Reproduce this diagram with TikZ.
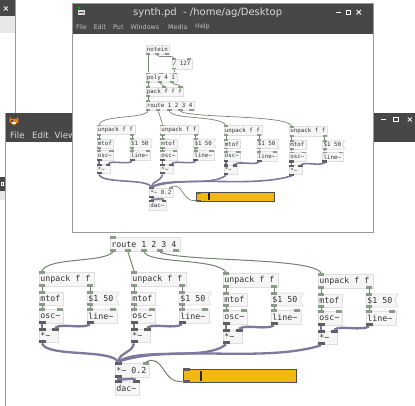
\documentclass[tikz,border=0pt]{standalone}
\usepackage{fontspec}
\setmainfont{DejaVu Sans}
\newfontfamily\pdmono{DejaVu Sans Mono}
\definecolor{bar}{HTML}{474747}
\definecolor{frame}{HTML}{9A9A9A}
\definecolor{objfill}{HTML}{F5F6F5}
\definecolor{objline}{HTML}{DDE0DD}
\definecolor{ctlio}{HTML}{8C9A8C}
\definecolor{sigio}{HTML}{5E5E62}
\definecolor{ctlwire}{HTML}{74836F}
\definecolor{sigwire}{HTML}{7C7A9C}
\definecolor{slider}{HTML}{F1B90F}
\tikzset{
  objbox/.style={draw=objline,fill=objfill,line width=.8pt,inner ysep=0pt,inner xsep=0pt,text=black!80,font=\pdmono\fontsize{\fs}{\fs}\selectfont},
  msgtext/.style={objbox,draw=none,fill=none},
  ioc/.style={fill=ctlio,draw=none,inner sep=0pt,minimum width={\zs*6pt},minimum height={\zs*2.6pt}},
  ios/.style={fill=sigio,draw=none,inner sep=0pt,minimum width={\zs*7pt},minimum height={\zs*3pt}},
  ctl/.style={draw=ctlwire,line width={\zs*1pt}},
  sig/.style={draw=sigwire,line width={\zs*2.3pt}},
  barbox/.style={fill=bar,draw=none},
  winframe/.style={draw=frame,line width=1pt},
  bartext/.style={text=white!85!black,inner sep=0pt,anchor=west}
}
\newcommand\obj[6]{%
  \pgfmathsetmacro\tw{(#4-#2)*\zs-2.6*\zs}%
  \pgfmathsetmacro\mw{(#4-#2)*\zs}%
  \pgfmathsetmacro\mh{(#5-#3)*\zs}%
  \node[objbox,minimum width=\mw pt,minimum height=\mh pt] (#1) at ({(#2+#4)/2},{(#3+#5)/2}) {\makebox[\tw pt][l]{#6}};}
\newcommand\msg[6]{%
  \pgfmathsetmacro\tw{(#4-#2)*\zs-2.6*\zs}%
  \pgfmathsetmacro\mw{(#4-#2)*\zs}%
  \pgfmathsetmacro\mh{(#5-#3)*\zs}%
  \draw[draw=objline,fill=objfill,line width=.8pt] (#2,#3) -- (#4,#3) -- ({#4-3},{(#3+#5)/2}) -- (#4,#5) -- (#2,#5) -- cycle;
  \node[msgtext,minimum width=\mw pt,minimum height=\mh pt] (#1) at ({(#2+#4)/2},{(#3+#5)/2}) {\makebox[\tw pt][l]{#6}};}
\newcommand\ioc[3]{\node[ioc] (#1) at (#2,#3) {};}
\newcommand\ios[3]{\node[ios] (#1) at (#2,#3) {};}
% one voice of the patch
\newcommand\voice[3]{%
\begin{scope}[shift={(#2,#3)}]
  \obj{#1un}{39}{272}{94}{286}{unpack f f}
  \obj{#1mt}{39}{292}{63}{305}{mtof}
  \msg{#1ms}{87}{292}{119}{305}{\$1 50}
  \obj{#1os}{39}{309}{63}{323}{osc\char126}
  \obj{#1li}{87}{309}{117}{323}{line\char126}
  \obj{#1mu}{39}{329}{58}{342}{*\char126}
  \ioc{#1uni}{42}{272.5}\ioc{#1uo}{42}{285.7}\ioc{#1up}{90}{285.7}
  \ioc{#1mti}{42}{292.5}\ioc{#1mto}{42}{304.7}
  \ioc{#1msi}{90}{292.5}\ioc{#1mso}{90}{304.7}
  \ioc{#1osi}{42}{309.5}\ioc{#1osj}{60}{309.5}\ios{#1oso}{42}{322.7}
  \ioc{#1lii}{90}{309.5}\ioc{#1lij}{113}{309.5}\ios{#1lio}{90}{322.7}
  \ios{#1mui}{42}{329.5}\ios{#1muj}{55}{329.5}\ios{#1muo}{42}{341.7}
  \draw[ctl] (#1uo.south) -- (#1mti.north);
  \draw[ctl] (#1up.south) -- (#1msi.north);
  \draw[ctl] (#1mto.south) -- (#1osi.north);
  \draw[ctl] (#1mso.south) -- (#1lii.north);
  \draw[sig] (#1oso.south) -- (#1mui.north);
  \draw[sig] (#1lio.south) .. controls +(-8,5) and +(7,-5) .. (#1muj.north);
\end{scope}}
% the patch shared by both windows
\newcommand\patch[1]{%
  \obj{#1ro}{110}{237}{180}{251}{route 1 2 3 4}
  \ioc{#1roi}{113}{237.5}
  \ioc{#1r1}{113}{250.5}\ioc{#1r2}{128}{250.5}\ioc{#1r3}{144}{250.5}\ioc{#1r4}{160}{250.5}\ioc{#1r5}{176}{250.5}
  \voice{#11}{0}{0}
  \voice{#12}{92}{0}
  \voice{#13}{184}{1}
  \voice{#14}{279}{2}
  \obj{#1vo}{115}{363}{149}{377}{*\char126{} 0.2}
  \obj{#1da}{115}{381}{139}{395}{dac\char126}
  \ios{#1voi}{118}{363.5}\ioc{#1voj}{146}{363.5}\ios{#1voo}{118}{376.7}
  \ios{#1dai}{118}{381.5}\ios{#1daj}{136}{381.5}
  \node[draw=black!70,line width={\zs*.9pt},fill=slider,minimum width={\zs*113pt},minimum height={\zs*13pt},inner sep=0pt] (#1sl) at (239.5,375.5) {};
  \ios{#1sli}{186}{369.7}\ios{#1slo}{186}{381.3}
  \node[fill=black!85,inner sep=0pt,minimum width={\zs*2.6pt},minimum height={\zs*10pt}] (#1sh) at (201,375.5) {};
  \draw[ctl] (#1r1.south) .. controls +(-10,11) and +(6,-14) .. (#11uni.north);
  \draw[ctl] (#1r2.south) -- (#12uni.north);
  \draw[ctl] (#1r3.south) .. controls +(6,12) and +(-10,-14) .. (#13uni.north);
  \draw[ctl] (#1r4.south) .. controls +(20,10) and +(-8,-16) .. (#14uni.north);
  \draw[sig] (#11muo.south) .. controls +(5,14) and +(-7,-13) .. (#1voi.north);
  \draw[sig] (#12muo.south) .. controls +(-3,11) and +(3,-11) .. (#1voi.north);
  \draw[sig] (#13muo.south) .. controls +(-20,17) and +(22,-15) .. (#1voi.north);
  \draw[sig] (#14muo.south) .. controls +(-60,18) and +(52,-18) .. (#1voi.north);
  \draw[sig] (#1voo.south) -- (#1dai.north);
  \draw[sig] (#1voo.south) .. controls +(4,3) and +(-4,-3) .. (#1daj.north);
  \draw[ctl] (#1slo.west) .. controls +(-20,3) and +(18,-9) .. (#1voj.north);
}
\begin{document}
\begin{tikzpicture}[x=1pt,y=-1pt]
\useasboundingbox (0,0) rectangle (415,406);
\fill[white] (0,0) rectangle (415,406);
\def\zs{1}
% window at the very back
\fill[black!9] (0,16) rectangle (15,33);
\fill[barbox] (0,0) rectangle (15,16);
\node[text=white,inner sep=0pt,font=\bfseries\fontsize{8}{8}\selectfont] (backx) at (6,9) {×};
\draw[winframe] (15.3,0) -- (15.3,113);
% far left window
\fill[black!9] (0,191) rectangle (5,200);
\fill[barbox] (0,177) rectangle (5,191);
\draw[white,line width=.8pt] (1.5,182) rectangle (3.5,185);
% middle window
\fill[barbox] (5.5,113) rectangle (415,142);
\draw[winframe] (5.5,113) -- (5.5,406);
% cat icon
\fill[orange!60!brown] (10,116) -- (11,119) -- (17,119) -- (18,116) -- (18.5,122) -- (14,125.5) -- (9.5,122) -- cycle;
\fill[black!70] (11,120.5) rectangle (13,122);
\fill[white!85!orange] (12,122.5) rectangle (16,124);
\node[bartext,font=\fontsize{8.6}{8.6}\selectfont] (mfile) at (10,135.5) {File};
\node[bartext,font=\fontsize{8.6}{8.6}\selectfont] (medit) at (32,135.5) {Edit};
\node[bartext,font=\fontsize{8.6}{8.6}\selectfont] (mview) at (54.5,135.5) {View};
\draw[white,line width=1pt] (381,120) -- (386,120);
\draw[white,line width=1pt] (393.5,117.5) rectangle (398,122);
\node[text=white,inner sep=0pt,font=\bfseries\fontsize{8}{8}\selectfont] (midx) at (410,120) {×};
% bottom copy of the patch
\begin{scope}
\def\fs{8.3}
\patch{b}
\end{scope}
% top window
\fill[white] (72.7,4) rectangle (373,233);
\draw[winframe] (72.7,4) rectangle (373,233);
\fill[barbox] (72.7,4) rectangle (373,34);
\fill[green!70!black] (78,7.5) rectangle (80,9.5);
\fill[white!85!black] (77.5,10.5) rectangle (84.5,15.5);
\fill[bar] (78.5,12) rectangle (83.5,13);
\node[bartext,font=\fontsize{10}{10}\selectfont] (ttl) at (133,12.8) {synth.pd\ \ - /home/ag/Desktop};
\foreach \mx/\mt in {76/File,93.5/Edit,113/Put,130.5/Windows,168/Media,195/Help}
  \node[bartext,font=\fontsize{6.4}{6.4}\selectfont,text=white!75!black] at (\mx,26.8) {\mt};
\draw[white,line width=1pt] (336,13) -- (340.5,13);
\draw[white,line width=1pt] (346,10.5) rectangle (350,14.5);
\node[text=white,inner sep=0pt,font=\bfseries\fontsize{9}{9}\selectfont] (topx) at (359,12.5) {×};
% top copy of the patch, with its upper part
\begin{scope}[x=.69pt,y=-.69pt,shift={(101.6,-90.6)}]
\def\zs{.69}
\def\fs{5.8}
\patch{t}
\obj{tno}{110}{156.5}{143.8}{169}{notein}
\obj{tdi}{147.7}{176}{176.7}{190.6}{/ 127}
\obj{tpo}{110}{196.4}{155}{209.4}{poly 4 1}
\obj{tpa}{110}{216.7}{163.6}{229.7}{pack f f f}
\ioc{tnoa}{113}{168.5}\ioc{tnob}{126}{168.5}\ioc{tnoc}{140}{168.5}
\ioc{tdii}{150.6}{176.5}\ioc{tdij}{172.4}{176.5}\ioc{tdio}{150.6}{190}
\ioc{tpoi}{113}{197}\ioc{tpoj}{132}{197}\ioc{tpok}{152}{197}
\ioc{tpoa}{113}{209}\ioc{tpob}{130}{209}\ioc{tpoc}{148}{209}
\ioc{tpai}{113}{217.2}\ioc{tpaj}{136}{217.2}\ioc{tpak}{160}{217.2}\ioc{tpao}{113}{229.2}
\draw[ctl] (tnoa.south) -- (tpoi.north);
\draw[ctl] (tnob.south) .. controls +(4,6) and +(-4,-6) .. (tdii.north);
\draw[ctl] (tdio.south) -- (tpok.north);
\draw[ctl] (tpoa.south) -- (tpai.north);
\draw[ctl] (tpob.south) .. controls +(2,4) and +(-2,-4) .. (tpaj.north);
\draw[ctl] (tpoc.south) .. controls +(2,4) and +(-2,-4) .. (tpak.north);
\draw[ctl] (tpao.south) -- (troi.north);
\end{scope}
\end{tikzpicture}
\end{document}
